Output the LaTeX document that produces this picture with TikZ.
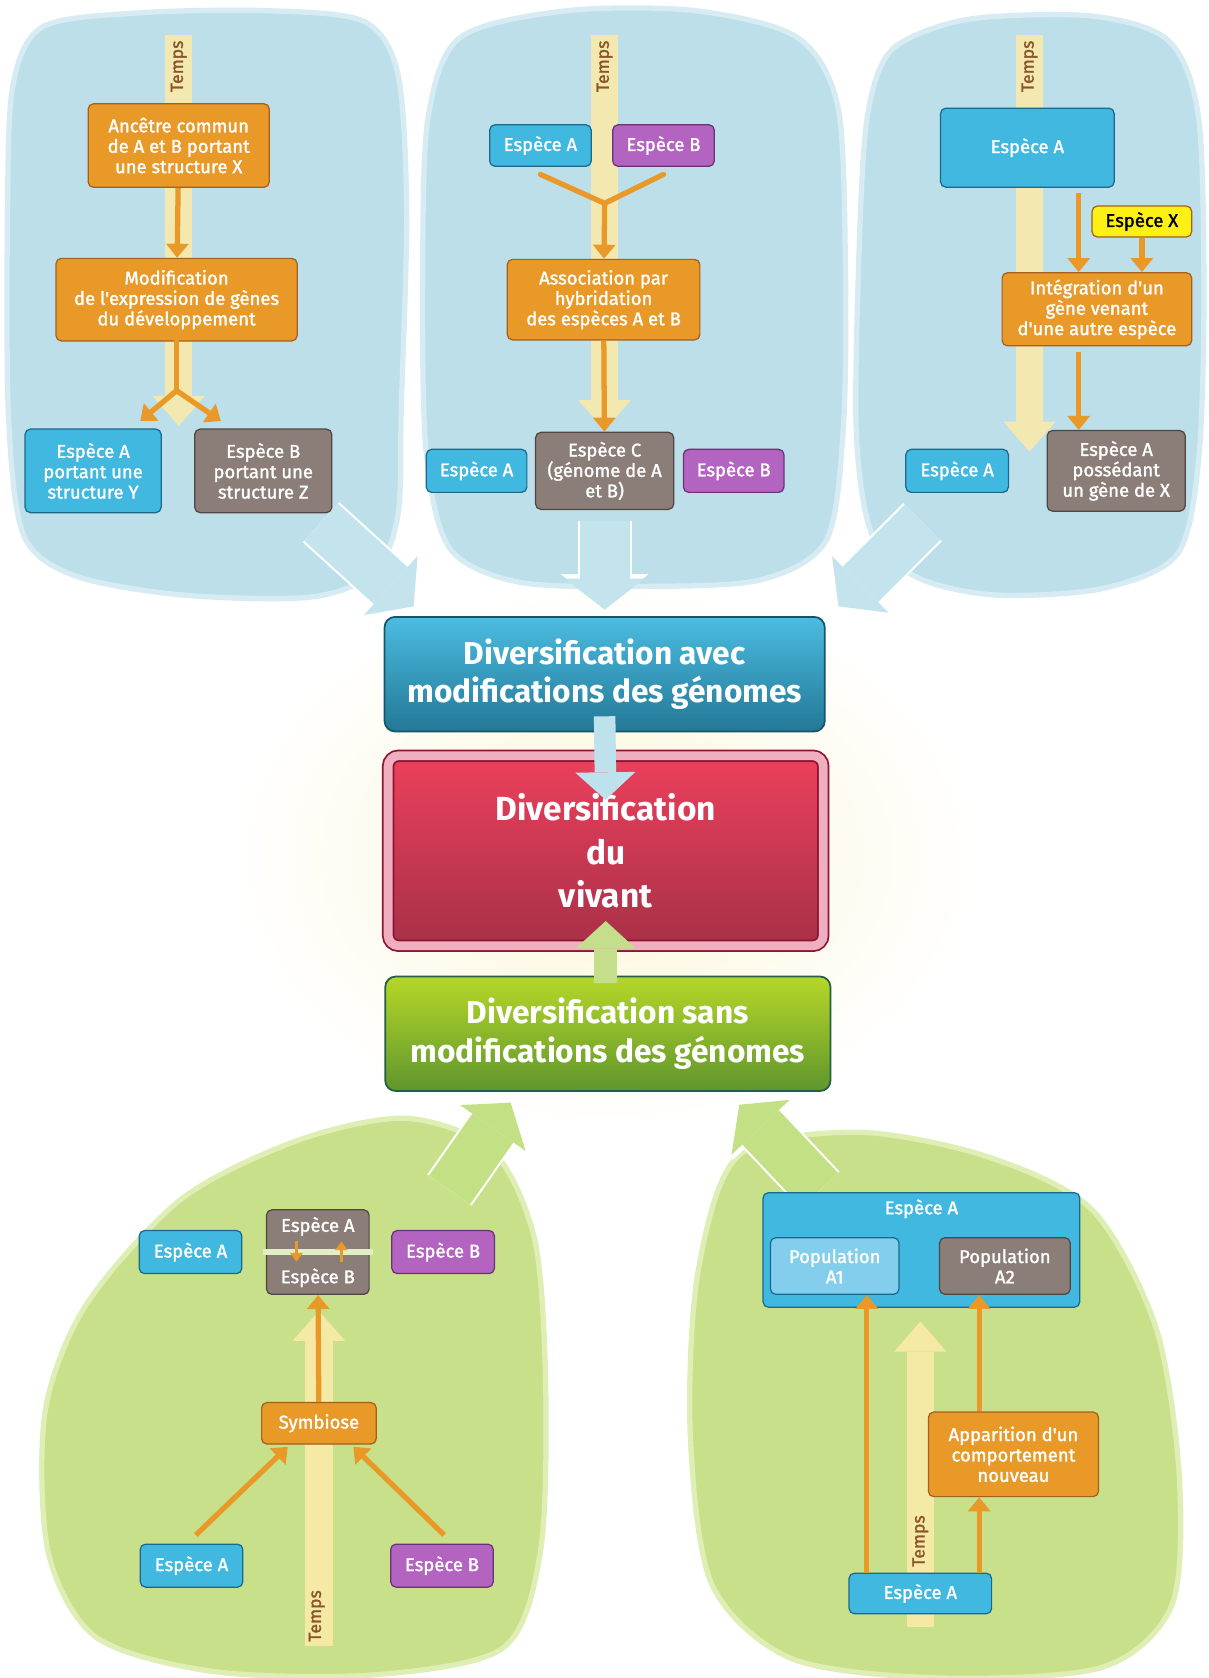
\documentclass[tikz,border=0pt]{standalone}
\usepackage{fontspec}
\setmainfont{Fira Sans}
\newfontfamily\famboite{Fira Sans}[RawFeature={embolden=1.5}]
\usepackage{xcolor}
\usepackage{tikz}
\usetikzlibrary{arrows.meta, positioning, calc, shapes}

\definecolor{fondbleu}{RGB}{188,223,233}
\definecolor{bordbleu}{RGB}{215,236,242}
\definecolor{fondvert}{RGB}{200,224,138}
\definecolor{bordvert}{RGB}{222,238,180}
\definecolor{bleuesp}{RGB}{64,184,224}
\definecolor{bleubord}{RGB}{26,105,140}
\definecolor{bleupop}{RGB}{130,206,236}
\definecolor{orangeb}{RGB}{233,153,40}
\definecolor{orangebord}{RGB}{165,95,30}
\definecolor{grisb}{RGB}{139,125,119}
\definecolor{grisbord}{RGB}{80,70,66}
\definecolor{violetb}{RGB}{178,100,192}
\definecolor{violetbord}{RGB}{105,50,118}
\definecolor{jauneb}{RGB}{252,240,20}
\definecolor{tempsc}{RGB}{250,234,170}
\definecolor{tempstxt}{RGB}{140,85,40}
\definecolor{flechebleue}{RGB}{196,228,237}
\definecolor{flecheverte}{RGB}{196,224,132}
\definecolor{petitbleu}{RGB}{190,226,236}
\definecolor{petitvert}{RGB}{196,222,140}
\definecolor{halo}{RGB}{252,246,215}
\definecolor{avechaut}{RGB}{75,188,225}
\definecolor{avecbas}{RGB}{35,120,150}
\definecolor{avecbord}{RGB}{20,85,105}
\definecolor{vivanthaut}{RGB}{236,64,92}
\definecolor{vivantbas}{RGB}{168,48,72}
\definecolor{vivantcadre}{RGB}{240,175,192}
\definecolor{vivantbord}{RGB}{140,20,50}
\definecolor{sanshaut}{RGB}{182,215,40}
\definecolor{sansbas}{RGB}{95,150,45}
\definecolor{sansbord}{RGB}{35,95,70}
\definecolor{separation}{RGB}{225,238,200}

\newcommand{\fontboite}{\famboite\fontsize{10.5}{11.6}\selectfont}
\newcommand{\fontgrande}{\bfseries\fontsize{18}{22}\selectfont}
\newcommand{\fontvivant}{\bfseries\fontsize{19}{24.5}\selectfont}
\newcommand{\fonttemps}{\famboite\fontsize{10}{12}\selectfont}

\tikzstyle{boite} = [rectangle, rounded corners=3pt, align=center, text=white, font=\fontboite, line width=0.7pt, inner sep=1pt]
\tikzstyle{boitebleue} = [boite, fill=bleuesp, draw=bleubord]
\tikzstyle{boiteorange} = [boite, fill=orangeb, draw=orangebord]
\tikzstyle{boitegrise} = [boite, fill=grisb, draw=grisbord]
\tikzstyle{boiteviolette} = [boite, fill=violetb, draw=violetbord]
\tikzstyle{boitejaune} = [boite, fill=jauneb, draw=orangebord, text=black]
\tikzstyle{grande} = [rectangle, rounded corners=6pt, align=center, text=white, font=\fontgrande, line width=1pt]
\tikzstyle{fleche} = [draw=orangeb, line width=3pt, -{Triangle[length=8pt,width=12.5pt]}]
\tikzstyle{trait} = [draw=orangeb, line width=3pt, line cap=round, line join=round]
\tikzstyle{petitefleche} = [draw=orangeb, line width=1.8pt, -{Triangle[length=5pt,width=7pt]}]
\tikzstyle{temps} = [draw=tempsc, opacity=0.9, line width=0.55cm, -{Triangle[length=0.6cm,width=1.05cm,line width=0pt]}]
\tikzstyle{tempstexte} = [rotate=90, font=\fonttemps, text=tempstxt]
\tikzstyle{grossefleche} = [line width=1.0cm, -{Triangle[length=0.62cm,width=1.6cm,line width=0pt]}, preaction={draw=white, line width=1.0cm+2.4pt, -{Triangle[length=0.62cm+2.6pt,width=1.6cm+4.4pt,line width=0pt]}}]
\tikzstyle{petitebleue} = [draw=petitbleu, line width=0.43cm, -{Triangle[length=0.55cm,width=1.2cm,line width=0pt]}]
\tikzstyle{petiteverte} = [draw=petitvert, line width=0.45cm, -{Triangle[length=0.55cm,width=1.2cm,line width=0pt]}]
\tikzstyle{fondb} = [fill=fondbleu, draw=bordbleu, line width=3pt]
\tikzstyle{fondv} = [fill=fondvert, draw=bordvert, line width=3pt]

\begin{document}
\begin{tikzpicture}[x=0.0214cm, y=-0.0214cm]
    \useasboundingbox (0,0) rectangle (1129,1568);
    \fill [white] (0,0) rectangle (1129,1568);

    % Halo
    \shade [inner color=halo, outer color=white] (566,800) ellipse [x radius=7.5cm, y radius=5.5cm];

    % Fonds des panneaux
    \path [fondb] plot [smooth cycle] coordinates {(40,25) (130,12) (250,10) (340,20) (372,70) (380,200) (375,380) (372,480) (350,535) (290,558) (170,556) (70,538) (22,500) (8,390) (7,200) (12,80)};
    \path [fondb] plot [smooth cycle] coordinates {(430,35) (530,10) (650,10) (745,35) (783,100) (790,250) (788,400) (772,505) (710,542) (600,548) (485,544) (420,512) (398,420) (395,250) (400,110)};
    \path [fondb] plot [smooth cycle] coordinates {(835,45) (905,18) (1020,15) (1092,38) (1120,110) (1125,280) (1120,430) (1100,518) (1030,550) (930,556) (858,540) (815,500) (800,400) (804,200) (812,100)};
    \path [fondv] plot [smooth cycle] coordinates {(380,1045) (460,1075) (500,1160) (510,1300) (505,1450) (470,1540) (350,1565) (200,1562) (90,1530) (45,1450) (42,1320) (80,1220) (170,1120) (280,1065)};
    \path [fondv] plot [smooth cycle] coordinates {(690,1080) (800,1058) (920,1080) (1020,1130) (1080,1240) (1102,1380) (1095,1500) (1030,1558) (880,1568) (740,1550) (665,1480) (645,1340) (652,1190)};

    % Temps
    \draw [temps] (167,33) -- (167,398);
    \draw [temps] (565,33) -- (565,402);
    \draw [temps] (962,33) -- (962,422);
    \draw [temps] (298,1538) -- (298,1225);
    \draw [temps] (860,1520) -- (860,1235);
    \node (t1) [tempstexte] at (167,62) {Temps};
    \node (t2) [tempstexte] at (565,62) {Temps};
    \node (t3) [tempstexte] at (962,62) {Temps};
    \node (t4) [tempstexte] at (296,1510) {Temps};
    \node (t5) [tempstexte] at (860,1440) {Temps};

    % Panneau 1 : gènes du développement
    \node (ancetre) [boiteorange, minimum width=3.62cm, minimum height=1.67cm] at (167,136) {Ancêtre commun\\de A et B portant\\une structure X};
    \node (modif) [boiteorange, minimum width=4.82cm, minimum height=1.65cm] at (165,280) {Modification\\de l'expression de gènes\\du développement};
    \node (espAY) [boitebleue, minimum width=2.72cm, minimum height=1.67cm] at (87,440) {Espèce A\\portant une\\structure Y};
    \node (espBZ) [boitegrise, minimum width=2.74cm, minimum height=1.67cm] at (246,440) {Espèce B\\portant une\\structure Z};
    \coordinate (fourche) at (165,365);
    \draw [fleche] (ancetre) -- (modif);
    \draw [trait] (modif) -- (fourche);
    \draw [fleche] (fourche) -- ($(espAY.north east)+(-20,-7)$);
    \draw [fleche] (fourche) -- ($(espBZ.north west)+(25,-7)$);

    % Panneau 2 : hybridation
    \node (espA2) [boitebleue, minimum width=2.03cm, minimum height=0.83cm] at (505,136) {Espèce A};
    \node (espB2) [boiteviolette, minimum width=2.03cm, minimum height=0.83cm] at (620,136) {Espèce B};
    \node (assoc) [boiteorange, minimum width=3.85cm, minimum height=1.61cm] at (564,280) {Association par\\hybridation\\des espèces A et B};
    \node (espC) [boitegrise, minimum width=2.76cm, minimum height=1.54cm] at (565,440) {Espèce C\\(génome de A\\et B)};
    \node (espA2b) [boitebleue, minimum width=2.01cm, minimum height=0.86cm, left=0.15cm of espC] {Espèce A};
    \node (espB2b) [boiteviolette, minimum width=2.01cm, minimum height=0.86cm, right=0.17cm of espC] {Espèce B};
    \coordinate (fusion) at (565,190);
    \draw [trait] ($(espA2.south)+(0,7)$) -- (fusion) -- ($(espB2.south)+(0,7)$);
    \draw [fleche] (fusion) -- (assoc);
    \draw [fleche] (assoc) -- (espC);

    % Panneau 3 : transfert de gène
    \node (espA3) [boitebleue, minimum width=3.47cm, minimum height=1.58cm] at (960,138) {Espèce A};
    \node (espX) [boitejaune, minimum width=1.99cm, minimum height=0.62cm] at (1067,207) {Espèce X};
    \node (integ) [boiteorange, minimum width=3.79cm, minimum height=1.46cm] at (1025,289) {Intégration d'un\\gène venant\\d'une autre espèce};
    \node (espAX) [boitegrise, minimum width=2.76cm, minimum height=1.61cm] at (1043,440) {Espèce A\\possédant\\un gène de X};
    \node (espA3b) [boitebleue, minimum width=2.05cm, minimum height=0.86cm, left=0.75cm of espAX] {Espèce A};
    \coordinate (axe3) at (1008,0);
    \draw [fleche, shorten <=3pt] (espA3.south -| axe3) -- (integ.north -| axe3);
    \draw [fleche] (espX) -- (espX |- integ.north);
    \draw [fleche, shorten <=3pt] (integ.south -| axe3) -- (espAX.north -| axe3);

    % Grosses flèches vers le centre
    \coordinate (q1) at (300,488);
    \coordinate (q2) at (565,487);
    \coordinate (q3) at (862,488);
    \coordinate (q4) at (420,1112);
    \coordinate (q5) at (766,1112);

    % Centre
    \node (avec) [grande, top color=avechaut, middle color=avechaut, bottom color=avecbas, draw=avecbord, minimum width=8.80cm, minimum height=2.29cm] at (565,630) {Diversification avec\\modifications des génomes};
    \node (vivant) [grande, font=\fontvivant, top color=vivanthaut, middle color=vivanthaut, bottom color=vivantbas, draw=vivantbord, double=vivantcadre, double distance=5pt, minimum width=8.7cm, minimum height=3.8cm] at (566,795) {Diversification\\du\\vivant};
    \node (sans) [grande, top color=sanshaut, middle color=sanshaut, bottom color=sansbas, draw=sansbord, minimum width=8.90cm, minimum height=2.29cm] at (568,966) {Diversification sans\\modifications des génomes};

    \draw [grossefleche, draw=flechebleue] (q1) -- ($(avec.north west)+(28,-9)$);
    \draw [grossefleche, draw=flechebleue] (q2) -- ($(avec.north)+(0,-6)$);
    \draw [grossefleche, draw=flechebleue] (q3) -- ($(avec.north east)+(12,-9)$);
    \draw [grossefleche, draw=flecheverte] (q4) -- ($(sans.south west)+(118,10)$);
    \draw [grossefleche, draw=flecheverte] (q5) -- ($(sans.south east)+(-86,12)$);
    \draw [petitebleue] ($(avec.south)+(0,-15)$) -- ($(vivant.north)+(0,42)$);
    \draw [petiteverte] ($(sans.north)+(-2,7)$) -- ($(vivant.south)+(0,-24)$);

    % Panneau 4 : symbiose
    \node (symbAB) [boitegrise, minimum width=2.05cm, minimum height=1.69cm] at (297,1170) {Espèce A\\[0.62cm]Espèce B};
    \node (espA6) [boitebleue, minimum width=2.05cm, minimum height=0.86cm, left=0.47cm of symbAB] {Espèce A};
    \node (espB6) [boiteviolette, minimum width=2.05cm, minimum height=0.86cm, right=0.43cm of symbAB] {Espèce B};
    \node (symb) [boiteorange, minimum width=2.29cm, minimum height=0.83cm] at (298,1330) {Symbiose};
    \node (espA7) [boitebleue, minimum width=2.05cm, minimum height=0.86cm] at (179,1463) {Espèce A};
    \node (espB7) [boiteviolette, minimum width=2.05cm, minimum height=0.86cm] at (413,1463) {Espèce B};
    \draw [separation, line width=3pt] ($(symbAB.west)+(-3,0)$) -- ($(symbAB.east)+(3,0)$);
    \draw [petitefleche] ($(symbAB.center)+(-20,-10)$) -- ($(symbAB.center)+(-20,9)$);
    \draw [petitefleche] ($(symbAB.center)+(22,9)$) -- ($(symbAB.center)+(22,-10)$);
    \draw [fleche] (symb) -- (symbAB);
    \draw [fleche] ($(espA7.north)+(4,-8)$) -- ($(symb.south west)+(25,2)$);
    \draw [fleche] ($(espB7.north)+(2,-8)$) -- ($(symb.south east)+(-22,2)$);

    % Panneau 5 : comportement
    \node (espA5) [boitebleue, minimum width=6.33cm, minimum height=2.29cm, label={[anchor=north, font=\fontboite, text=white, inner sep=4pt]north:Espèce A}] at (861,1168) {};
    \node (popA1) [boite, fill=bleupop, draw=bleubord, minimum width=2.57cm, minimum height=1.13cm] at (780,1183) {Population\\A1};
    \node (popA2) [boitegrise, minimum width=2.61cm, minimum height=1.13cm] at (939,1183) {Population\\A2};
    \node (appar) [boiteorange, minimum width=3.40cm, minimum height=1.69cm] at (947,1359) {Apparition d'un\\comportement\\nouveau};
    \node (espA5b) [boitebleue, minimum width=2.85cm, minimum height=0.81cm] at (860,1489) {Espèce A};
    \coordinate (axeA1) at (810,0);
    \coordinate (axeA2) at (915,0);
    \draw [fleche] (espA5b.north -| axeA1) -- (popA1.south -| axeA1);
    \draw [fleche] (espA5b.north -| axeA2) -- (appar.south -| axeA2);
    \draw [fleche] (appar.north -| axeA2) -- (popA2.south -| axeA2);
\end{tikzpicture}
\end{document}
